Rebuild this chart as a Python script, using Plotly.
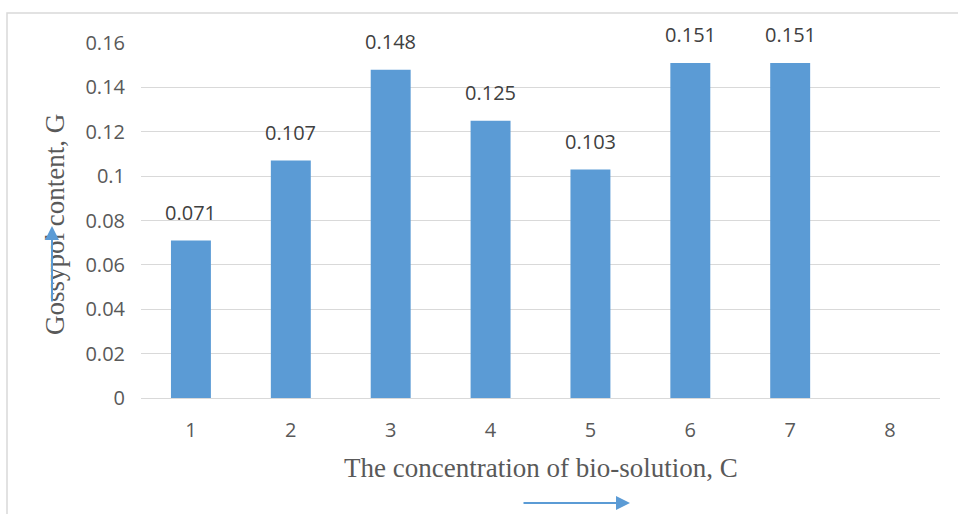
import plotly.graph_objects as go

categories = ["1", "2", "3", "4", "5", "6", "7", "8"]
gossypol = [0.071, 0.107, 0.148, 0.125, 0.103, 0.151, 0.151, None]
labels = ["0.071", "0.107", "0.148", "0.125", "0.103", "0.151", "0.151", ""]
y_tickvals = [0, 0.02, 0.04, 0.06, 0.08, 0.1, 0.12, 0.14, 0.16]
y_ticktext = ["0", "0.02", "0.04", "0.06", "0.08", "0.1", "0.12", "0.14", "0.16"]

BAR = "#5b9bd5"
W, H = 958, 514
L, R, T, B = 141, 18, 43, 116
pw, ph = W - L - R, H - T - B

def px(x):
    return (x - L) / pw

def py(y):
    return (H - B - y) / ph

fig = go.Figure()
fig.add_trace(go.Bar(
    x=categories, y=gossypol,
    marker=dict(color=BAR, line=dict(width=0)), width=0.4,
))

for i, (v, t) in enumerate(zip(gossypol, labels)):
    if v is None:
        continue
    fig.add_annotation(x=i, y=v, xref="x", yref="y", text=t, showarrow=False,
                       yshift=28, xanchor="center", yanchor="middle",
                       font=dict(family="Open Sans", size=20, color="#404040"))

fig.update_layout(
    width=W, height=H, margin=dict(l=L, r=R, t=T, b=B),
    paper_bgcolor="white", plot_bgcolor="white", showlegend=False,
    font=dict(family="Open Sans", color="#595959"),
    xaxis=dict(type="category", showgrid=False, showline=True, linecolor="#d9d9d9",
               linewidth=1, ticks="", tickfont=dict(size=20, color="#595959"),
               ticklabelstandoff=14, zeroline=False),
    yaxis=dict(range=[0, 0.16], tickvals=y_tickvals, ticktext=y_ticktext,
               showgrid=True, gridcolor="#d9d9d9", gridwidth=1, zeroline=False,
               showline=False, ticks="", tickfont=dict(size=20, color="#595959"),
               ticklabelstandoff=15),
)

# outer border
fig.add_shape(type="rect", xref="paper", yref="paper",
              x0=px(7), x1=px(962), y0=py(518), y1=py(13),
              line=dict(color="#d9d9d9", width=1.5), layer="below")

# axis titles
fig.add_annotation(text="The concentration of bio-solution, C", xref="paper", yref="paper",
                   x=px(541), y=py(468), showarrow=False, xanchor="center", yanchor="middle",
                   font=dict(family="Liberation Serif", size=27, color="#595959"))
fig.add_annotation(text="Gossypol content, G", xref="paper", yref="paper",
                   x=px(55), y=py(225), showarrow=False, textangle=-90,
                   xanchor="center", yanchor="middle",
                   font=dict(family="Liberation Serif", size=27, color="#595959"))

# arrows
fig.add_annotation(x=px(52), y=py(226), xref="paper", yref="paper", ax=0, ay=77,
                   showarrow=True, arrowhead=2, arrowsize=1.4, arrowwidth=2,
                   arrowcolor=BAR, text="")
fig.add_annotation(x=px(630), y=py(503), xref="paper", yref="paper", ax=-108, ay=0,
                   showarrow=True, arrowhead=2, arrowsize=1.4, arrowwidth=2,
                   arrowcolor=BAR, text="")

fig.write_html("out.html")
